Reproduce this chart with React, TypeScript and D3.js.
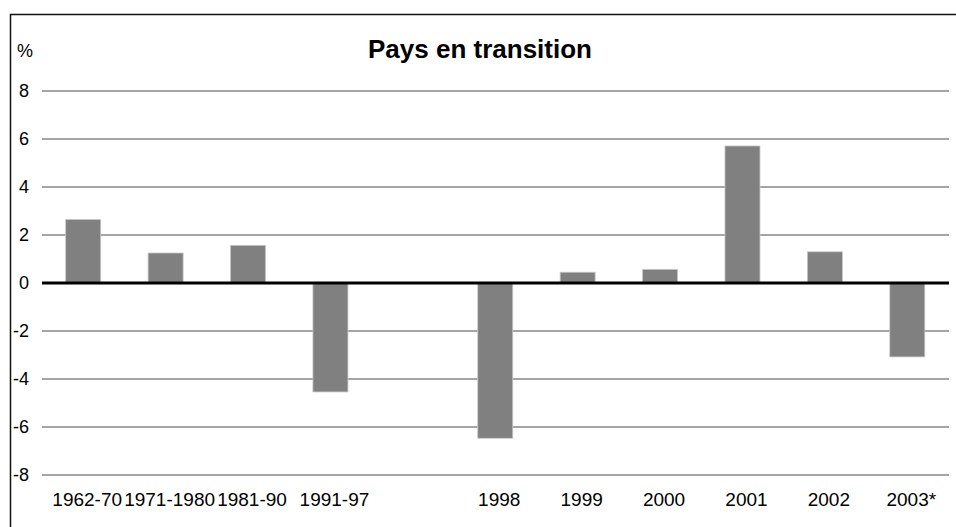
import * as d3 from "d3";
import { useEffect } from "react";

// categories and values
const categories = ["1962-70", "1971-1980", "1981-90", "1991-97", "", "1998", "1999", "2000", "2001", "2002", "2003*"];
const values: (number | null)[] = [2.65, 1.25, 1.57, -4.54, null, -6.47, 0.45, 0.57, 5.71, 1.3, -3.08];
const yTicks = [-8, -6, -4, -2, 0, 2, 4, 6, 8];
const title = "Pays en transition";
const yUnit = "%";

const W = 956;
const H = 527;
const font = "'Liberation Sans', Arial, sans-serif";

export default function App() {
	useEffect(() => {
		document.body.style.margin = "0";
	}, []);

	const x = d3
		.scaleBand<string>()
		.domain(categories.map((c, i) => i + ""))
		.range([42, 948.5])
		.paddingInner(0.575)
		.paddingOuter(0.2875);
	const y = d3.scaleLinear().domain([-8, 8]).range([475, 91]);

	return (
		<svg width={W} height={H} style={{ display: "block", fontFamily: font }}>
			<rect x={0} y={0} width={W} height={H} fill="#fff" />
			{/* frame, clipped on right and bottom like the source */}
			<rect x={10.5} y={14.5} width={W + 10} height={H + 10} fill="none" stroke="#111" strokeWidth={1.5} />
			<text x={480} y={58} textAnchor="middle" fontSize={26} fontWeight="bold" fill="#000">
				{title}
			</text>
			<text x={17} y={57} fontSize={18} fill="#000">
				{yUnit}
			</text>
			{yTicks.map((t) => (
				<g key={t}>
					{t !== 0 && (
						<line x1={42} x2={949} y1={y(t)} y2={y(t)} stroke="#4a4a4a" strokeWidth={1.2} />
					)}
					<text x={29} y={y(t)} dy="0.35em" textAnchor="end" fontSize={18} fill="#000">
						{t}
					</text>
				</g>
			))}
			{values.map((v, i) =>
				v === null ? null : (
					<rect
						key={i}
						x={x(i + "")!}
						width={x.bandwidth()}
						y={y(Math.max(0, v))}
						height={Math.abs(y(v) - y(0))}
						fill="#808080"
						stroke="#c8c8c8"
						strokeWidth={0.8}
					/>
				),
			)}
			<line x1={42} x2={949} y1={y(0)} y2={y(0)} stroke="#000" strokeWidth={3} />
			{categories.map((c, i) => (
				<text
					key={i}
					x={x(i + "")! + x.bandwidth() / 2 + 4}
					y={506}
					textAnchor="middle"
					fontSize={19}
					fill="#000"
				>
					{c}
				</text>
			))}
		</svg>
	);
}
